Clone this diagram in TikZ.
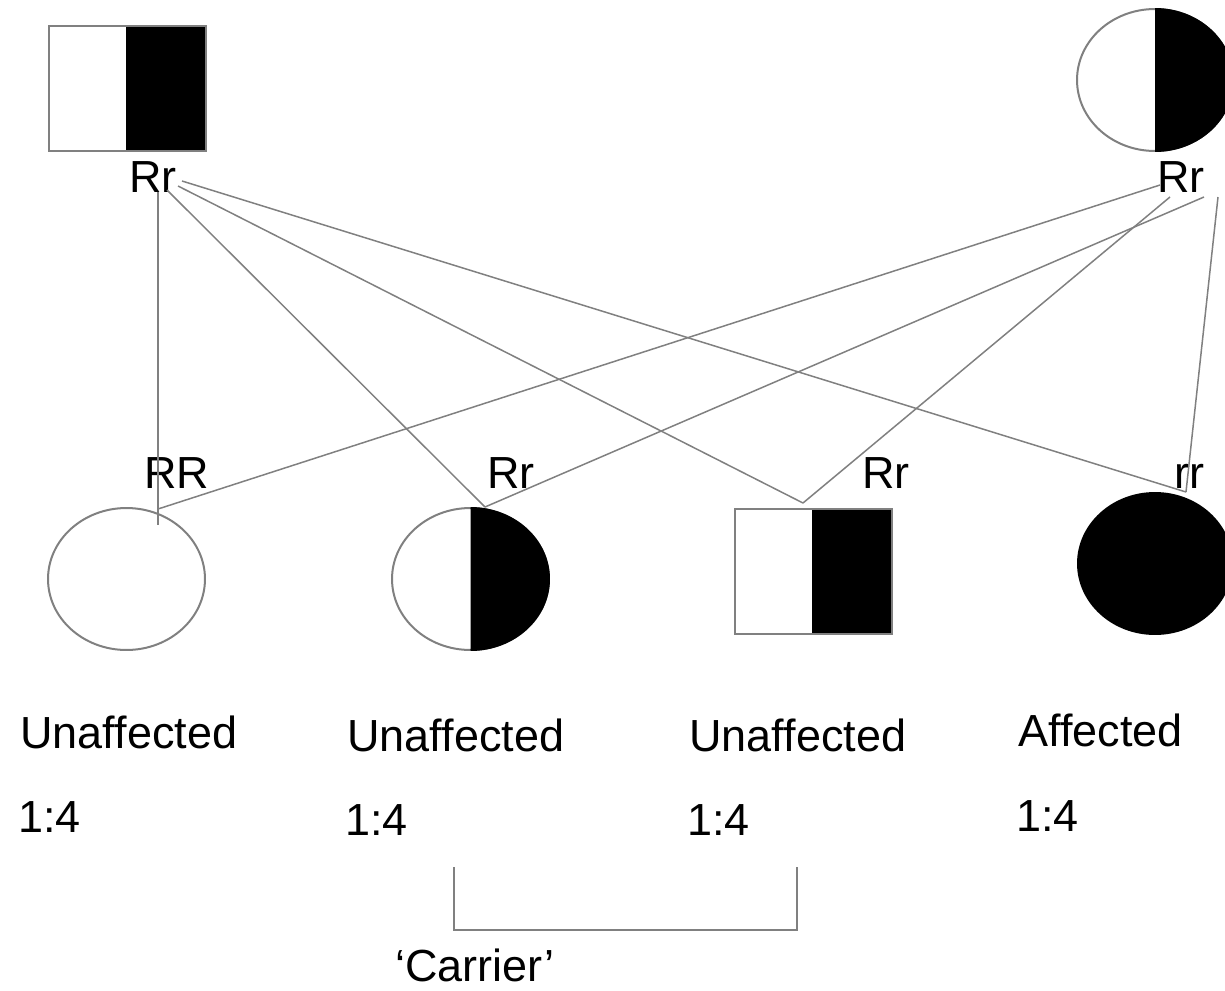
\documentclass[tikz,border=0pt]{standalone}
\usepackage{fontspec}
\setmainfont{Liberation Sans}
\usetikzlibrary{positioning}
\tikzset{myShapeLine/.style={line width=0.04cm,color=gray}}
\tikzset{myLinkLine/.style={line width=0.03cm,color=gray}}
\tikzset{myHalfFill/.style={fill=black,draw=black,line width=0.04cm}}
\tikzset{myText/.style={anchor=base west,inner sep=0pt,font=\fontsize{25.6}{30}\selectfont}}

\begin{document}
\begin{tikzpicture}[x=0.02cm,y=-0.02cm]
	\useasboundingbox (0,0) rectangle (1225,991);
	%parents
	\fill[black](126,26) rectangle (206,151);
	\draw[myShapeLine](49,26) rectangle (206,151);
	\draw[myShapeLine](1155,80) ellipse [x radius=1.56cm, y radius=1.42cm];
	\begin{scope}
		\clip (1155,0) rectangle (1240,170);
		\filldraw[myHalfFill](1155,80) ellipse [x radius=1.56cm, y radius=1.42cm];
	\end{scope}
	\node[myText] (fatherG) at (129,192) {Rr};
	\node[myText] (motherG) at (1157,192) {Rr};

	%children
	\draw[myShapeLine](126.5,579) ellipse [x radius=1.57cm, y radius=1.42cm];
	\draw[myShapeLine](470.5,579) ellipse [x radius=1.57cm, y radius=1.42cm];
	\begin{scope}
		\clip (470.5,490) rectangle (560,670);
		\filldraw[myHalfFill](470.5,579) ellipse [x radius=1.57cm, y radius=1.42cm];
	\end{scope}
	\fill[black](812,509) rectangle (892,634);
	\draw[myShapeLine](735,509) rectangle (892,634);
	\fill[black](1155,563.5) ellipse [x radius=1.56cm, y radius=1.43cm];

	\node[myText] (childAG) at (144,488) {RR};
	\node[myText] (childBG) at (487,488) {Rr};
	\node[myText] (childCG) at (862,488) {Rr};
	\node[myText] (childDG) at (1174,488) {rr};

	%line ends
	\coordinate (faA) at (158,192);
	\coordinate (faB) at (167,190);
	\coordinate (faC) at (178,186);
	\coordinate (faD) at (182,181);
	\coordinate (moA) at (1160,185);
	\coordinate (moB) at (1170,197);
	\coordinate (moC) at (1204,197);
	\coordinate (moD) at (1218,197);
	\coordinate (chA) at (158,509);
	\coordinate (chAend) at (158,525);
	\coordinate (chB) at (485,507);
	\coordinate (chC) at (803,503);
	\coordinate (chD) at (1186,492);

	\draw[myLinkLine](faA) -- (chAend);
	\draw[myLinkLine](faB) -- (chB);
	\draw[myLinkLine](faC) -- (chC);
	\draw[myLinkLine](faD) -- (chD);
	\draw[myLinkLine](moA) -- (chA);
	\draw[myLinkLine](moB) -- (chC);
	\draw[myLinkLine](moC) -- (chB);
	\draw[myLinkLine](moD) -- (chD);

	%status
	\node[myText] (stateA) at (20,748) {Unaffected};
	\node[myText] (stateB) at (347,751) {Unaffected};
	\node[myText] (stateC) at (689,751) {Unaffected};
	\node[myText] (stateD) at (1018,746) {Affected};
	\node[myText] (ratioA) at (18,832) {1:4};
	\node[myText] (ratioB) at (345,835) {1:4};
	\node[myText] (ratioC) at (687,835) {1:4};
	\node[myText] (ratioD) at (1016,831) {1:4};

	%carrier bracket
	\coordinate (brA) at (454,867);
	\coordinate (brB) at (797,867);
	\draw[myShapeLine](brA) -- (454,930) -- (797,930) -- (brB);
	\node[myText] (carrier) at (395,981) {‘Carrier’};

\end{tikzpicture}
\end{document}
